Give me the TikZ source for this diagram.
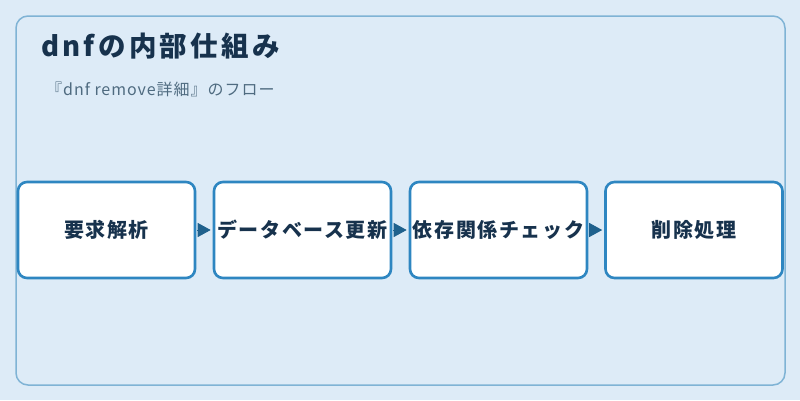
\documentclass[tikz,border=0pt]{standalone}
\usepackage{fontspec}
\setmainfont{Noto Sans CJK JP}
\newfontfamily\titlefont[LetterSpace=12]{Noto Sans CJK JP}
\newfontfamily\boxfont[LetterSpace=8]{Noto Sans CJK JP}
\newfontfamily\subfont[LetterSpace=6]{Noto Sans CJK JP}
\usetikzlibrary{arrows.meta}
\definecolor{bgc}{HTML}{DDEBF7}
\definecolor{framec}{HTML}{7FB3D5}
\definecolor{boxc}{HTML}{2E86C1}
\definecolor{arrc}{HTML}{1F618D}
\definecolor{titlec}{HTML}{17324D}
\definecolor{subc}{HTML}{4F6B80}
\begin{document}
\begin{tikzpicture}[x=1pt,y=-1pt,
  stepbox/.style={draw=boxc,line width=2.6pt,fill=white,rounded corners=9pt,
    minimum width=177pt,minimum height=96pt,inner sep=0pt,
    font=\boxfont\fontsize{20}{24}\selectfont\bfseries,text=titlec},
  flow/.style={draw=arrc,line width=1pt,-{Triangle[length=13pt,width=14pt]},shorten <=1pt,shorten >=2pt}]
\fill[bgc] (0,0) rectangle (800,400);
\useasboundingbox (0,0) rectangle (800,400);
\draw[framec,line width=1.5pt,rounded corners=12pt] (16,16) rectangle (785,385);
\node[anchor=base west,text=titlec,font=\titlefont\fontsize{27.5}{32}\selectfont\bfseries,inner sep=0pt] (title) at (41,56) {dnfの内部仕組み};
\node[anchor=base west,text=subc,font=\subfont\fontsize{16}{19}\selectfont,inner sep=0pt] (sub) at (46,95) {『dnf remove詳細』のフロー};
\node[stepbox] (a) at (106.5,230) {要求解析};
\node[stepbox] (b) at (302.5,230) {データベース更新};
\node[stepbox] (c) at (498.5,230) {依存関係チェック};
\node[stepbox] (d) at (694,230) {削除処理};
\draw[flow] (a.east) -- (b.west);
\draw[flow] (b.east) -- (c.west);
\draw[flow] (c.east) -- (d.west);
\end{tikzpicture}
\end{document}
